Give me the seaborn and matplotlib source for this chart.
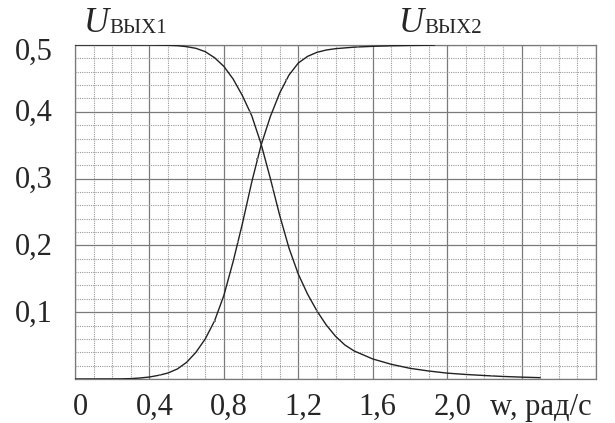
import numpy as np
import pandas as pd
import matplotlib
matplotlib.use("Agg")
import matplotlib.pyplot as plt
import matplotlib.transforms as mtransforms
import seaborn as sns

# -----------------------------
# Data
# -----------------------------
w1 = [0.0, 0.4, 0.5, 0.55, 0.6, 0.65, 0.7, 0.75, 0.8, 0.85, 0.9, 0.95,
      1.0, 1.05, 1.1, 1.15, 1.2, 1.25, 1.3, 1.35, 1.4, 1.45, 1.5, 1.6,
      1.7, 1.8, 1.9, 2.0, 2.1, 2.2, 2.3, 2.4, 2.5]
u1 = [0.5, 0.5, 0.4995, 0.499, 0.4975, 0.495, 0.49, 0.481, 0.468, 0.449,
      0.424, 0.394, 0.352, 0.300, 0.245, 0.196, 0.157, 0.127, 0.102, 0.081,
      0.064, 0.051, 0.042, 0.030, 0.022, 0.016, 0.012, 0.0088, 0.0068,
      0.0052, 0.0038, 0.0028, 0.002]

w2 = [0.0, 0.25, 0.3, 0.35, 0.4, 0.45, 0.5, 0.55, 0.6, 0.65, 0.7, 0.75,
      0.8, 0.85, 0.9, 0.95, 1.0, 1.05, 1.1, 1.15, 1.2, 1.25, 1.3, 1.35,
      1.4, 1.5, 1.6, 1.7, 1.8, 1.94]
u2 = [0.0, 0.0002, 0.0006, 0.0015, 0.003, 0.0055, 0.009, 0.015, 0.025,
      0.040, 0.060, 0.087, 0.125, 0.176, 0.233, 0.295, 0.350, 0.393, 0.428,
      0.455, 0.473, 0.483, 0.489, 0.4925, 0.4945, 0.4968, 0.498, 0.4988,
      0.4993, 0.4998]

# measured points drawn as tiny squares
mw1 = [0.94, 1.065, 1.3, 2.24]
mu1 = [0.40, 0.285, 0.102, 0.0046]
mw2 = [0.456, 0.75, 0.876, 0.98, 1.135, 1.52, 1.94]
mu2 = [0.006, 0.087, 0.205, 0.33, 0.448, 0.497, 0.4998]

x_ticks = [0.0, 0.4, 0.8, 1.2, 1.6, 2.0]
x_labels = ["0", "0,4", "0,8", "1,2", "1,6", "2,0"]
y_ticks = [0.1, 0.2, 0.3, 0.4, 0.5]
y_labels = ["0,1", "0,2", "0,3", "0,4", "0,5"]

df1 = pd.DataFrame({"w": w1, "u": u1})
df2 = pd.DataFrame({"w": w2, "u": u2})

# -----------------------------
# Figure
# -----------------------------
sns.set_style("white")
plt.rcParams["font.family"] = ["Liberation Serif", "DejaVu Serif"]

fig = plt.figure(figsize=(6.15, 4.23), dpi=100)
ax = fig.add_axes([75 / 615, 1 - 379 / 423, 521 / 615, 334 / 423])

line_col = "#222222"
sns.lineplot(data=df1, x="w", y="u", ax=ax, color=line_col, linewidth=1.0,
             sort=False, zorder=4)
sns.lineplot(data=df2, x="w", y="u", ax=ax, color=line_col, linewidth=1.0,
             sort=False, zorder=4)
sns.scatterplot(x=mw1, y=mu1, ax=ax, marker="s", s=3, color="#777777",
                linewidth=0, zorder=5)
sns.scatterplot(x=mw2, y=mu2, ax=ax, marker="s", s=3, color="#777777",
                linewidth=0, zorder=5)

ax.set_xlim(0, 2.8)
ax.set_ylim(0, 0.5)

# grid: solid major, dotted minor
ax.set_xticks(np.arange(0, 2.81, 0.4))
ax.set_yticks(np.arange(0, 0.51, 0.1))
ax.set_xticks(np.arange(0, 2.81, 0.1), minor=True)
ax.set_yticks(np.arange(0, 0.51, 0.02), minor=True)
ax.grid(which="major", color="#7a7a7a", linewidth=0.9, linestyle="-")
ax.grid(which="minor", color="#9a9a9a", linewidth=0.8, linestyle=(0, (1, 1)))
ax.tick_params(which="both", length=0, labelbottom=False, labelleft=False)
for s in ax.spines.values():
    s.set_color("#7a7a7a")
    s.set_linewidth(0.9)
ax.set_xlabel("")
ax.set_ylabel("")

# tick labels as text (shifted like the scan)
fs = 22
dx = mtransforms.ScaledTranslation(5 / 100, 0, fig.dpi_scale_trans)
for xv, lab in zip(x_ticks, x_labels):
    ax.text(xv, -28 / 334, lab, ha="center", va="center", fontsize=fs,
            transform=ax.get_xaxis_transform() + dx)
ax.text(2.23, -28 / 334, "w, рад/с", ha="left", va="center", fontsize=fs,
        transform=ax.get_xaxis_transform())

for yv, lab in zip(y_ticks, y_labels):
    off = -7 if yv == 0.5 else -2
    tr = ax.get_yaxis_transform() + mtransforms.ScaledTranslation(
        0, off / 100, fig.dpi_scale_trans)
    ax.text(-22 / 521, yv, lab, ha="right", va="center", fontsize=fs,
            transform=tr)

# curve names
for xp, sub in [(84, "ВЫХ1"), (399, "ВЫХ2")]:
    fig.text(xp / 615, 1 - 32 / 423, "U", fontsize=25, style="italic",
             ha="left", va="baseline")
    fig.text((xp + 25) / 615, 1 - 33 / 423, sub, fontsize=15,
             ha="left", va="baseline")

fig.savefig("out.png", dpi=100)
plt.close(fig)
